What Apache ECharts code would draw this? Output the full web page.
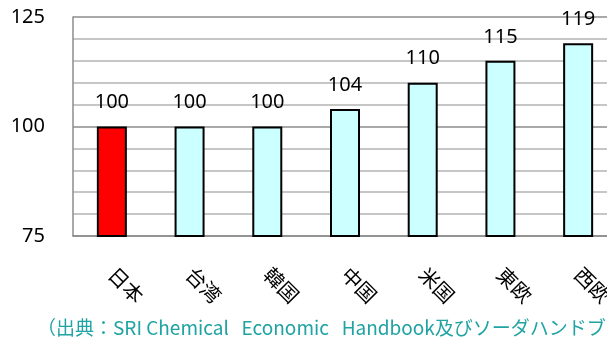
<!DOCTYPE html>
<html>
<head>
<meta charset="utf-8">
<script src="https://cdn.jsdelivr.net/npm/echarts@6/dist/echarts.min.js"></script>
<style>
  html, body { margin: 0; padding: 0; background: #fff; }
  #chart { width: 607px; height: 341px; }
</style>
</head>
<body>
<div id="chart"></div>
<script>
const categories = ['日本', '台湾', '韓国', '中国', '米国', '東欧', '西欧']
const values = [100, 100, 100, 104, 110, 115, 119]
const barColors = ['#ff0000', '#ccffff', '#ccffff', '#ccffff', '#ccffff', '#ccffff', '#ccffff']
const sourceText = '（出典：SRI Chemical\u00a0\u00a0\u00a0Economic\u00a0\u00a0\u00a0Handbook及びソーダハンドブック）'

const chart = echarts.init(document.getElementById('chart'))

const option = {
  animation: false,
  grid: {
    left: 73,
    top: 17,
    width: 544,
    height: 219,
    outerBoundsMode: 'none',
    containLabel: false
  },
  xAxis: {
    type: 'category',
    data: categories,
    axisTick: { show: false },
    axisLine: { lineStyle: { color: '#8c8c8c', width: 1.5 } },
    axisLabel: {
      rotate: -45,
      margin: 35,
      fontSize: 20,
      color: '#000',
      fontFamily: 'Noto Sans CJK JP'
    }
  },
  yAxis: {
    type: 'value',
    min: 75,
    max: 125,
    interval: 25,
    axisLine: { show: true, lineStyle: { color: '#8c8c8c', width: 1.5 } },
    axisTick: { show: false },
    axisLabel: {
      margin: 28,
      fontSize: 20,
      color: '#000',
      fontFamily: 'Noto Sans'
    },
    splitLine: { lineStyle: { color: '#8c8c8c', width: 1.5 } },
    minorTick: { show: false, splitNumber: 5 },
    minorSplitLine: { show: true, lineStyle: { color: '#b4b4b4', width: 1.5 } }
  },
  series: [
    {
      type: 'bar',
      barWidth: 30,
      data: values.map((v, i) => ({
        value: v,
        itemStyle: { color: barColors[i] }
      })),
      itemStyle: { borderColor: '#000', borderWidth: 2 },
      label: {
        show: true,
        position: 'top',
        distance: 14,
        fontSize: 20,
        color: '#000',
        fontFamily: 'Noto Sans'
      }
    }
  ],
  graphic: [
    {
      type: 'text',
      left: 37,
      top: 318,
      style: {
        text: sourceText,
        fontSize: 19,
        fill: '#1fa3a3',
        fontFamily: 'Noto Sans CJK JP'
      }
    }
  ]
}

chart.setOption(option)
</script>
</body>
</html>
